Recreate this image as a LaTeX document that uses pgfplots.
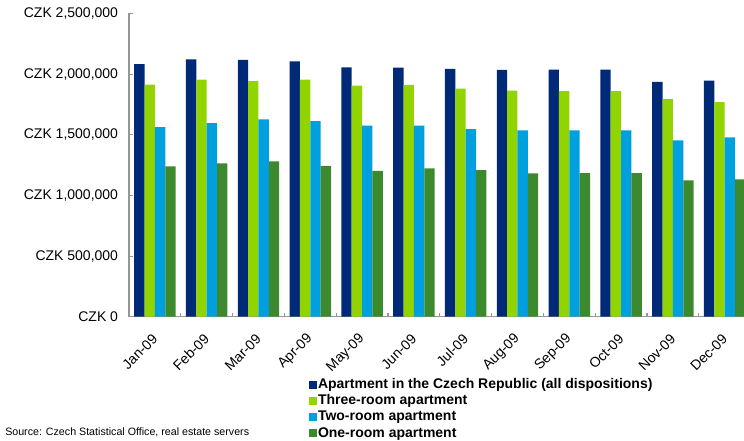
\documentclass[border=0pt]{standalone}
\usepackage{pgfplots}
\pgfplotsset{compat=1.18}
\usepackage{fontspec}
\setmainfont{Liberation Sans}
\definecolor{cnavy}{RGB}{0,41,119}
\definecolor{clime}{RGB}{146,212,0}
\definecolor{cblue}{RGB}{0,160,223}
\definecolor{cgreen}{RGB}{61,138,46}
\definecolor{axgray}{RGB}{150,150,150}
\pgfplotsset{
  sqleg/.style={legend image code/.code={\fill[##1,draw=none] (0pt,-3pt) rectangle (6pt,3pt);}},
}
\begin{document}
\begin{tikzpicture}
\begin{axis}[
  scale only axis,
  width=466.2pt, height=227.5pt,
  xmin=-0.5, xmax=11.5, ymin=0, ymax=2500000,
  axis x line*=bottom, axis y line*=left,
  axis line style={axgray, line width=1pt},
  clip=false,
  xtick={0,...,11},
  xticklabels={Jan-09,Feb-09,Mar-09,Apr-09,May-09,Jun-09,Jul-09,Aug-09,Sep-09,Oct-09,Nov-09,Dec-09},
  major x tick style={draw=none},
  minor xtick={0.5,1.5,...,10.5},
  minor x tick style={axgray, line width=0.8pt},
  minor tick length=3pt,
  ytick={0,500000,1000000,1500000,2000000,2500000},
  yticklabels={{CZK 0},{CZK 500,000},{CZK 1,000,000},{CZK 1,500,000},{CZK 2,000,000},{CZK 2,500,000}},
  major y tick style={axgray, line width=0.8pt},
  tick align=inside,
  major tick length=3pt,
  scaled y ticks=false,
  yticklabel style={font=\fontsize{10.5}{12}\selectfont, xshift=-4.7pt},
  xticklabel style={font=\fontsize{10.5}{12}\selectfont, xshift=2.5pt, yshift=-12.4pt, rotate=45, anchor=east},
  legend style={at={(0.2896,-0.1968)}, anchor=north west, draw=none, fill=none,
    inner sep=0pt, outer sep=0pt, row sep=0pt,
    font=\bfseries\fontsize{10.5}{12}\selectfont,
    nodes={inner xsep=0.75pt, inner ysep=1pt, text height=8pt, text depth=2.15pt},
    cells={anchor=west}},
]
\addplot[ybar, bar width=0.2, bar shift=-0.3, fill=cnavy, draw=none, sqleg] coordinates {
(0,2081000) (1,2122000) (2,2116000) (3,2105000) (4,2056000) (5,2053000)
(6,2042000) (7,2034000) (8,2037000) (9,2037000) (10,1935000) (11,1946000)};
\addplot[ybar, bar width=0.2, bar shift=-0.1, fill=clime, draw=none, sqleg] coordinates {
(0,1913000) (1,1955000) (2,1941000) (3,1955000) (4,1905000) (5,1911000)
(6,1880000) (7,1864000) (8,1859000) (9,1859000) (10,1795000) (11,1768000)};
\addplot[ybar, bar width=0.2, bar shift=0.1, fill=cblue, draw=none, sqleg] coordinates {
(0,1562000) (1,1595000) (2,1626000) (3,1612000) (4,1576000) (5,1576000)
(6,1546000) (7,1535000) (8,1535000) (9,1535000) (10,1453000) (11,1478000)};
\addplot[ybar, bar width=0.2, bar shift=0.3, fill=cgreen, draw=none, sqleg] coordinates {
(0,1239000) (1,1264000) (2,1280000) (3,1244000) (4,1203000) (5,1223000)
(6,1209000) (7,1181000) (8,1184000) (9,1184000) (10,1124000) (11,1132000)};
\legend{Apartment in the Czech Republic (all dispositions),Three-room apartment,Two-room apartment,One-room apartment}
\node[anchor=base west, inner sep=0pt, font=\fontsize{8}{10}\selectfont] at (rel axis cs:-0.1995,-0.393) {Source: Czech Statistical Office, real estate servers};
\end{axis}
\pgfresetboundingbox
\path[use as bounding box] (-96.75pt,-93.2pt) rectangle (461.25pt,237.55pt);
\end{tikzpicture}
\end{document}
